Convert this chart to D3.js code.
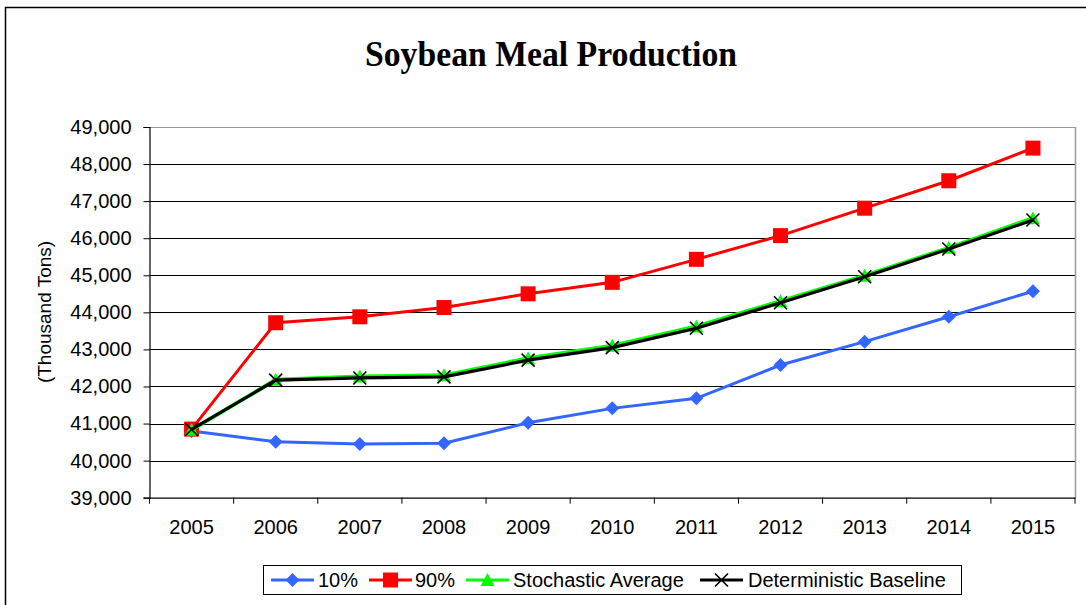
<!DOCTYPE html>
<html><head><meta charset="utf-8">
<script src="https://cdn.jsdelivr.net/npm/d3@7"></script>
<style>body{margin:0;background:#fff;} svg{display:block;}</style>
</head><body>
<svg id="c" width="1086" height="605"></svg>
<script>
const years = ["2005","2006","2007","2008","2009","2010","2011","2012","2013","2014","2015"];
const p10 = [40800,40510,40450,40470,41020,41410,41680,42580,43210,43880,44570];
const p90 = [40850,43720,43880,44130,44500,44810,45430,46070,46810,47550,48430];
const stochAvg = [40830,42180,42270,42300,42760,43100,43620,44300,44990,45740,46540];
const detBase = [40840,42170,42230,42260,42710,43050,43570,44260,44960,45710,46490];
const yTicks = [39000,40000,41000,42000,43000,44000,45000,46000,47000,48000,49000];
const seriesNames = ["10%","90%","Stochastic Average","Deterministic Baseline"];

const svg = d3.select("#c");
const L=149.5, R=1075, T=127, B=497.7;
const x = d3.scaleBand().domain(years).range([L,R]);
const y = d3.scaleLinear().domain([39000,49000]).range([B,T]);

// outer border
svg.append("path").attr("d","M5.5,610 V7.5 H1086").attr("fill","none").attr("stroke","#000").attr("stroke-width",1.5);

// title
svg.append("text").attr("x",551).attr("y",66).attr("text-anchor","middle")
  .attr("font-family","Liberation Serif, Times New Roman, serif").attr("font-weight","bold")
  .attr("font-size",35).attr("textLength",372).attr("lengthAdjust","spacingAndGlyphs")
  .text("Soybean Meal Production");

// gridlines
svg.append("g").selectAll("line").data(yTicks.slice(1)).join("line")
  .attr("x1",L).attr("x2",R).attr("y1",d=>Math.round(y(d))+0.5).attr("y2",d=>Math.round(y(d))+0.5)
  .attr("stroke",d=>d===49000?"#999":"#000").attr("stroke-width",1);
svg.append("line").attr("x1",R+0.5).attr("x2",R+0.5).attr("y1",T).attr("y2",B).attr("stroke","#999").attr("stroke-width",1.5);

// y axis
const yAxis = d3.axisLeft(y).tickValues(yTicks).tickSize(6).tickPadding(12).tickFormat(d3.format(","));
const gy = svg.append("g").attr("transform",`translate(${L},0)`).call(yAxis);
gy.select(".domain").attr("stroke","#000").attr("stroke-width",1.2);
gy.selectAll(".tick line").attr("stroke","#000");
gy.selectAll("text").attr("font-family","Liberation Sans, Arial, sans-serif").attr("font-size",20).attr("fill","#000");

// x axis
const xAxis = d3.axisBottom(x).tickSize(0).tickPadding(22);
const gx = svg.append("g").attr("transform",`translate(0,${B})`).call(xAxis);
gx.select(".domain").attr("stroke","#000").attr("stroke-width",1.2);
gx.selectAll("text").attr("font-family","Liberation Sans, Arial, sans-serif").attr("font-size",20).attr("fill","#000");
const bounds = years.map(d=>x(d)).concat([R]);
svg.append("g").selectAll("line").data(bounds).join("line")
  .attr("x1",d=>d).attr("x2",d=>d).attr("y1",B).attr("y2",B+6).attr("stroke","#000");

// y label
svg.append("text").attr("transform","translate(51,312) rotate(-90)").attr("text-anchor","middle")
  .attr("font-family","Liberation Sans, Arial, sans-serif").attr("font-size",19).text("(Thousand Tons)");

const cx = d => x(d)+x.bandwidth()/2;
const line = d3.line().x((v,i)=>cx(years[i])).y(v=>y(v));

function marker(g, type, color, px, py){
  if(type==="diamond"){
    g.append("path").attr("d",`M${px},${py-7}L${px+7},${py}L${px},${py+7}L${px-7},${py}Z`).attr("fill",color);
  } else if(type==="square"){
    g.append("rect").attr("x",px-7.5).attr("y",py-7.5).attr("width",15).attr("height",15).attr("fill",color);
  } else if(type==="triangle"){
    g.append("path").attr("d",`M${px},${py-7}L${px+7},${py+6}L${px-7},${py+6}Z`).attr("fill",color);
  } else if(type==="x"){
    g.append("path").attr("d",`M${px-6.5},${py-6.5}L${px+6.5},${py+6.5}M${px-6.5},${py+6.5}L${px+6.5},${py-6.5}`).attr("stroke",color).attr("stroke-width",1.6);
  }
}

const series = [
  {name:seriesNames[0], vals:p10, color:"#3366FF", m:"diamond", w:3},
  {name:seriesNames[1], vals:p90, color:"#FF0000", m:"square", w:3},
  {name:seriesNames[2], vals:stochAvg, color:"#00FF00", m:"triangle", w:4},
  {name:seriesNames[3], vals:detBase, color:"#000000", m:"x", w:3.2}
];
series.forEach(s=>{
  const g = svg.append("g");
  g.append("path").attr("d",line(s.vals)).attr("fill","none").attr("stroke",s.color).attr("stroke-width",s.w);
  s.vals.forEach((v,i)=>marker(g,s.m,s.color,cx(years[i]),y(v)));
});

// legend
svg.append("rect").attr("x",263.5).attr("y",565.5).attr("width",698).attr("height",29).attr("fill","#fff").attr("stroke","#000").attr("stroke-width",1);
const legX = [[271,318],[369,415],[466,513],[700,748]];
series.forEach((s,i)=>{
  const g = svg.append("g");
  const [lx, tx] = legX[i];
  g.append("line").attr("x1",lx).attr("x2",lx+43).attr("y1",580).attr("y2",580).attr("stroke",s.color).attr("stroke-width",3);
  marker(g,s.m,s.color,lx+21.5,580);
  g.append("text").attr("x",tx).attr("y",587).attr("font-family","Liberation Sans, Arial, sans-serif").attr("font-size",20).text(s.name);
});
</script>
</body></html>
